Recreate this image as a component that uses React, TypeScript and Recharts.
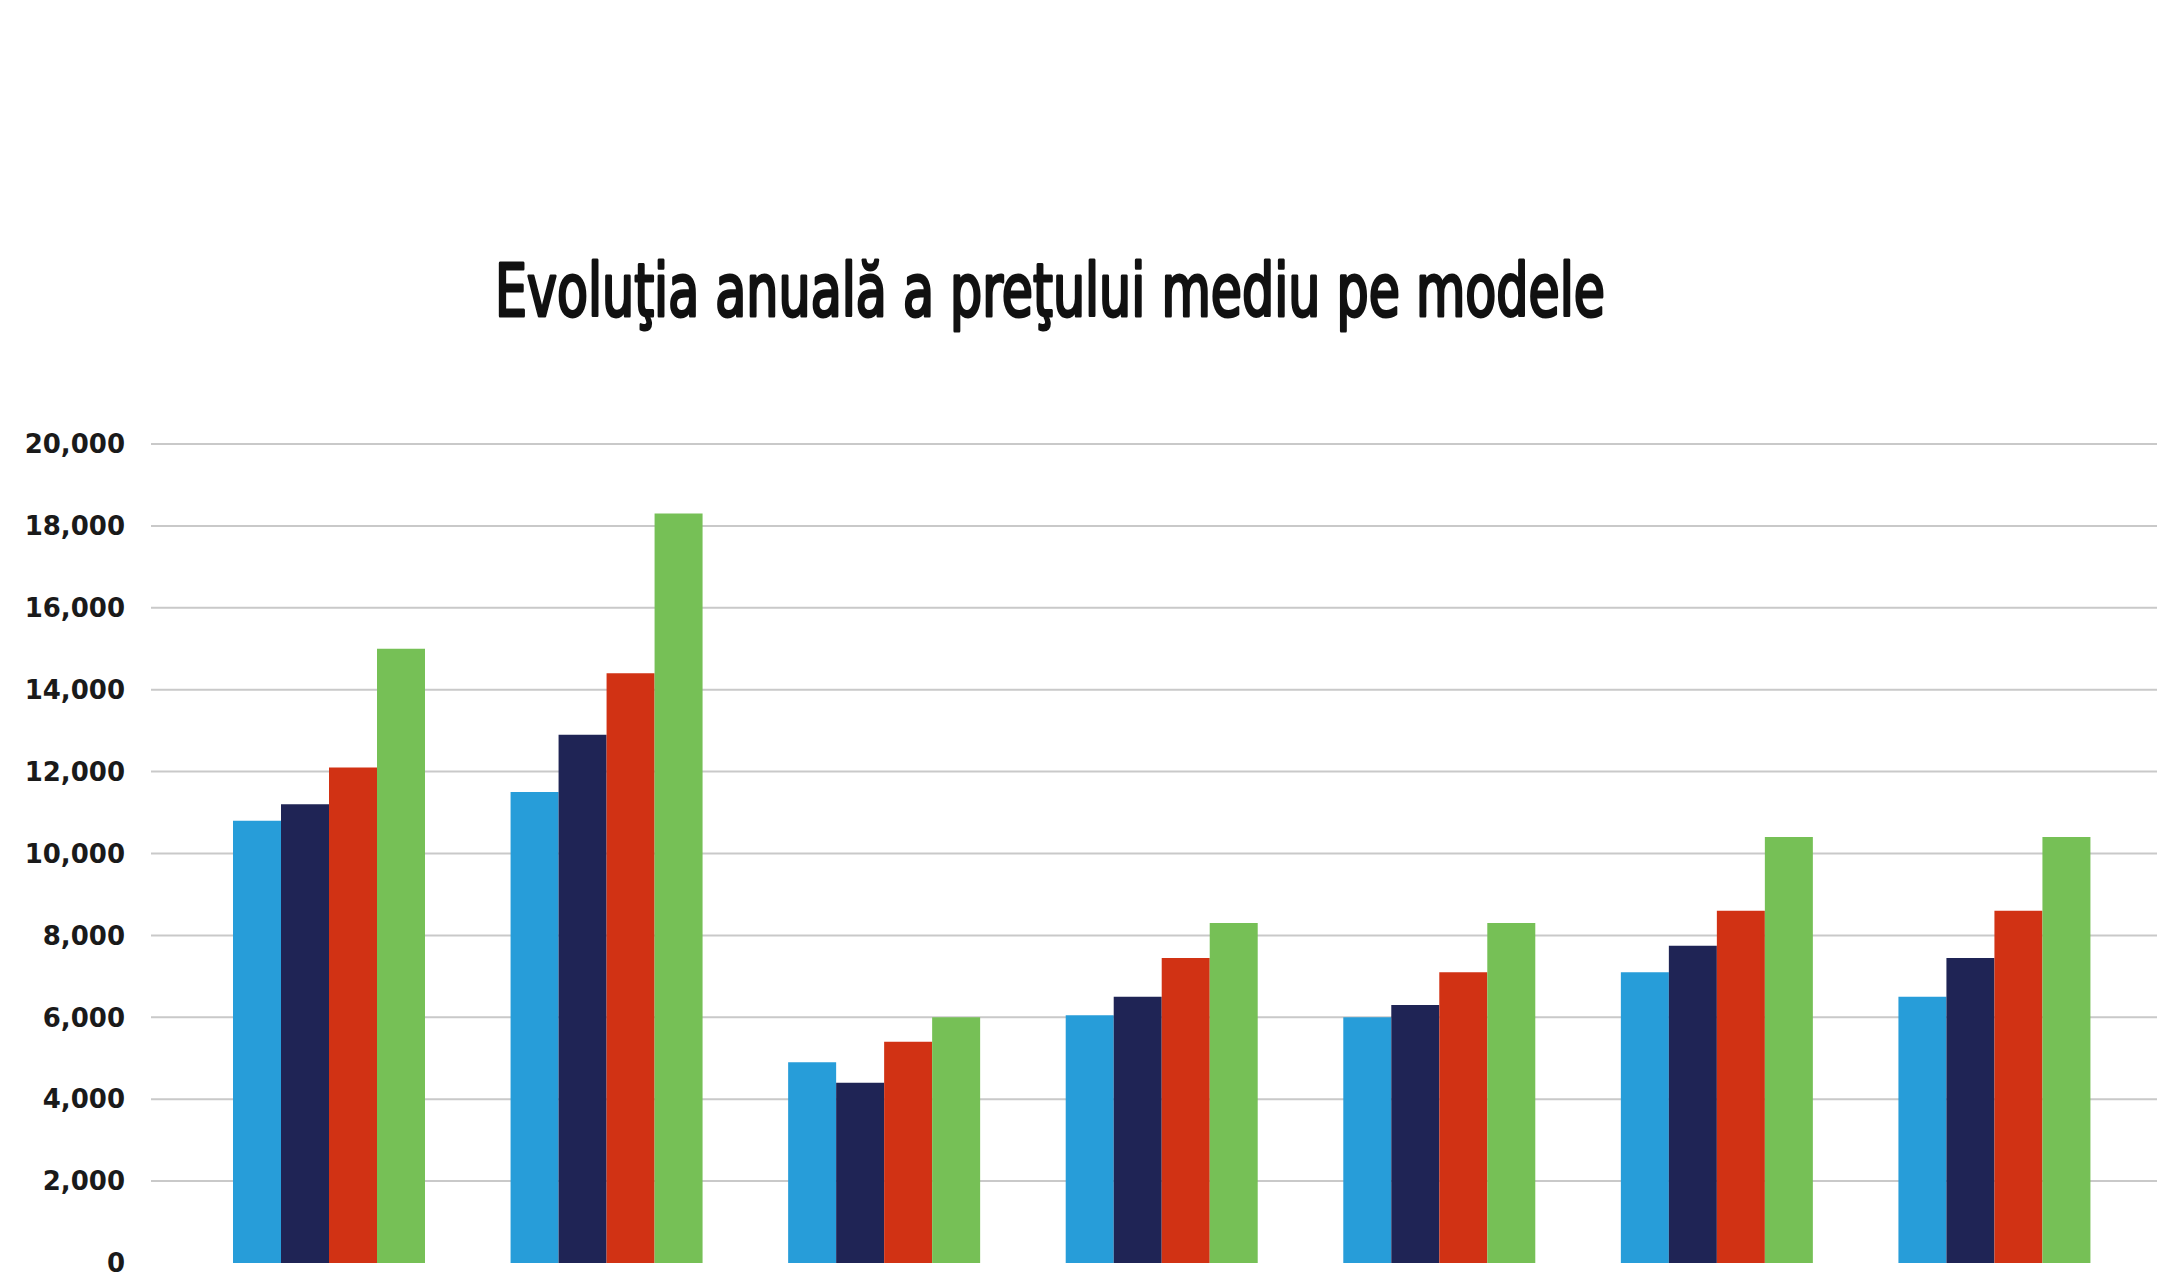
import React from "react";
import { BarChart, Bar, XAxis, YAxis, CartesianGrid } from "recharts";

const models = ["M1", "M2", "M3", "M4", "M5", "M6", "M7"];
const year1 = [10800, 11500, 4900, 6050, 6000, 7100, 6500];
const year2 = [11200, 12900, 4400, 6500, 6300, 7750, 7450];
const year3 = [12100, 14400, 5400, 7450, 7100, 8600, 8600];
const year4 = [15000, 18300, 6000, 8300, 8300, 10400, 10400];
const yTicks = [0, 2000, 4000, 6000, 8000, 10000, 12000, 14000, 16000, 18000, 20000];
const gridValues = yTicks.filter((t) => t > 0);

const title = "Evoluţia anuală a preţului mediu pe modele";

const data = models.map((m, i) => ({
  model: m,
  y1: year1[i],
  y2: year2[i],
  y3: year3[i],
  y4: year4[i],
}));

export default function App() {
  return (
    <div
      style={{
        position: "absolute",
        left: 0,
        top: 0,
        width: 2157,
        height: 1285,
        background: "#fff",
      }}
    >
      <svg
        width={2157}
        height={400}
        style={{ position: "absolute", left: 0, top: 0 }}
      >
        <text
          x={1050}
          y={316}
          textAnchor="middle"
          textLength={1110}
          lengthAdjust="spacingAndGlyphs"
          fontFamily="'Liberation Sans Narrow', 'DejaVu Sans Condensed', 'Liberation Sans', sans-serif"
          fontSize={73}
          fontWeight={400}
          stroke="#111"
          strokeWidth={3}
          strokeLinejoin="round"
          fill="#111"
        >
          {title}
        </text>
      </svg>
      <div style={{ position: "absolute", left: 0, top: 0 }}>
        <BarChart
          width={2157}
          height={1285}
          data={data}
          margin={{ top: 444, right: 0, bottom: 22, left: 0 }}
          barGap={0}
          barSize={48}
        >
          <CartesianGrid
            vertical={false}
            horizontalValues={gridValues}
            stroke="#c9c9c9"
            strokeWidth={2}
          />
          <XAxis
            dataKey="model"
            hide
            padding={{ left: 39, right: 24 }}
          />
          <YAxis
            width={151}
            domain={[0, 20000]}
            ticks={yTicks}
            interval={0}
            axisLine={false}
            tickLine={false}
            tickMargin={20}
            tickFormatter={(v: number) => v.toLocaleString("en-US")}
            tick={{
              fill: "#1a1a1a",
              fontSize: 26,
              fontWeight: 700,
              fontFamily: "'DejaVu Sans', sans-serif",
            }}
          />
          <Bar dataKey="y1" fill="#279dd9" isAnimationActive={false} />
          <Bar dataKey="y2" fill="#1f2455" isAnimationActive={false} />
          <Bar dataKey="y3" fill="#d13214" isAnimationActive={false} />
          <Bar dataKey="y4" fill="#76c056" isAnimationActive={false} />
        </BarChart>
      </div>
    </div>
  );
}
